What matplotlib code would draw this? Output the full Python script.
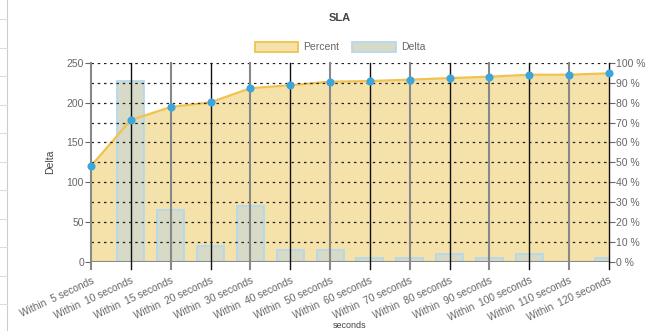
import matplotlib
matplotlib.use("Agg")
import matplotlib.pyplot as plt
from matplotlib.lines import Line2D
from matplotlib.patches import Patch
import numpy as np

categories = ["Within  5 seconds", "Within  10 seconds", "Within  15 seconds", "Within  20 seconds",
              "Within  30 seconds", "Within  40 seconds", "Within  50 seconds", "Within  60 seconds",
              "Within  70 seconds", "Within  80 seconds", "Within  90 seconds", "Within  100 seconds",
              "Within  110 seconds", "Within  120 seconds"]
delta = [np.nan, 227, 65, 20, 70, 14, 14, 4.5, 4, 9, 4, 9, 0, 4]
percent = [48.1, 71.3, 77.8, 80.2, 87.3, 88.8, 90.6, 90.9, 91.6, 92.4, 93.1, 94.1, 94.1, 94.8]
left_ticks = [0, 50, 100, 150, 200, 250]
right_ticks = [0, 10, 20, 30, 40, 50, 60, 70, 80, 90, 100]

plt.rcParams['font.family'] = ['Liberation Sans', 'DejaVu Sans']
W, H = 660, 331
fig = plt.figure(figsize=(W / 100, H / 100), dpi=100)
L, R, T, B = 91, 609, 63, 261.5
ax = fig.add_axes([L / W, 1 - B / H, (R - L) / W, (B - T) / H])
ax2 = ax.twinx()

x = np.arange(len(categories))
tick_col = '#666666'

ax2.set_zorder(1)
ax.set_zorder(2)
ax.patch.set_visible(False)

ax2.fill_between(x, 0, percent, color='#f5e2aa', zorder=1, lw=0)
ax2.set_ylim(0, 100)
ax.set_ylim(0, 250)
ax.set_xlim(0, len(categories) - 1)

ax.bar(x, delta, width=0.68, color='#d6dac6', edgecolor='#b3d8f0', linewidth=1.3, zorder=2)

# line + points (percent scaled into the left axis: 100 % = 250)
ax.plot(x, np.array(percent) * 2.5, color='#f2c24e', lw=1.6, zorder=3)
ax.scatter(x, np.array(percent) * 2.5, s=34, color='#3ba6dc', zorder=5, linewidths=0, clip_on=False)

for v in np.arange(25, 251, 25):
    ax.axhline(v, color='#222222', lw=0.9, ls=(0, (2, 3)), zorder=4)
ax.axhline(0, color='#888888', lw=1.5, zorder=4)

for i in x:
    col = '#888888' if i % 2 == 0 else '#111111'
    lw = 1.5 if i % 2 == 0 else 1.0
    ax.plot([i, i], [-10, 250], color=col, lw=lw, zorder=4, clip_on=False)

for s in ax.spines.values():
    s.set_visible(False)
for s in ax2.spines.values():
    s.set_visible(False)

ax.set_yticks(left_ticks)
ax.set_yticklabels([str(v) for v in left_ticks])
ax.tick_params(axis='y', length=4, width=0.8, color=tick_col, labelcolor=tick_col, labelsize=7.5, pad=1)
ax2.set_yticks(right_ticks)
ax2.set_yticklabels([f"{v} %" for v in right_ticks])
ax2.tick_params(axis='y', length=4, width=0.8, color=tick_col, labelcolor=tick_col, labelsize=7.5, pad=1)

ax.set_xticks(x)
ax.set_xticklabels(categories, rotation=25, ha='right', va='top', rotation_mode='anchor')
ax.tick_params(axis='x', length=0, labelcolor=tick_col, labelsize=7.3, pad=10)

ax.set_ylabel("Delta", color='#444444', fontsize=7.5, labelpad=8)
fig.text(350 / W, 1 - 326 / H, "seconds", ha='center', va='center', fontsize=6.5, color='#444444')
fig.text(340 / W, 1 - 18 / H, "SLA", ha='center', va='center', fontsize=8, fontweight='bold', color='#444444')

handles = [Patch(facecolor='#f5e2aa', edgecolor='#f2c24e', lw=1.3, label='Percent'),
           Patch(facecolor='#d6dac6', edgecolor='#b3d8f0', lw=1.3, label='Delta')]
fig.legend(handles=handles, loc='center', bbox_to_anchor=(340 / W, 1 - 47 / H), ncol=2, frameon=False,
           fontsize=7.5, handlelength=4.2, handleheight=1.2, columnspacing=1.2, handletextpad=0.5,
           labelcolor='#666666')

fig.add_artist(Line2D([7 / W, 7 / W], [0, 1], color='#cccccc', lw=0.8, transform=fig.transFigure))
for yy in np.arange(19, 331, 28.5):
    fig.add_artist(Line2D([0, 7 / W], [1 - yy / H] * 2, color='#dddddd', lw=0.8, transform=fig.transFigure))

fig.savefig("out.png", dpi=100)
